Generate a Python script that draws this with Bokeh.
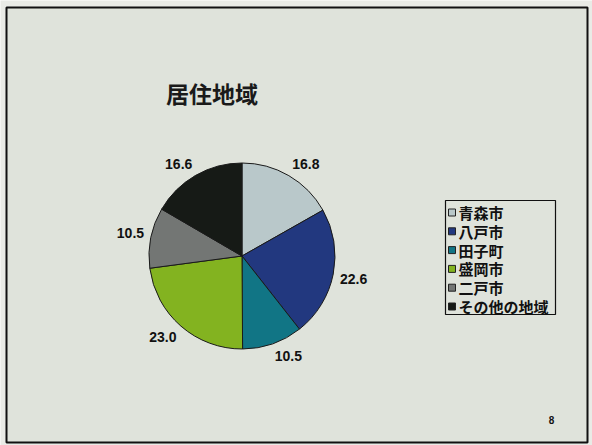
import numpy as np
from bokeh.plotting import figure
from bokeh.models import Range1d, ColumnDataSource
from bokeh.core.properties import value
from bokeh.embed import file_html
from bokeh.resources import INLINE

# ---- data ----
categories = ["青森市", "八戸市", "田子町", "盛岡市", "二戸市", "その他の地域"]
shares = [16.8, 22.6, 10.5, 23.0, 10.5, 16.6]
colors = ["#b9c8ca", "#22387f", "#117585", "#83b320", "#737674", "#161a16"]
title_text = "居住地域"
page_number = "8"

# ---- layout ----
W, H = 592, 445
BG = "#dfe3db"
OUT = "#e9ebe6"
p = figure(width=W, height=H, x_range=Range1d(0, W), y_range=Range1d(0, H),
           output_backend="svg", toolbar_location=None,
           x_axis_location=None, y_axis_location=None, min_border=0)
p.grid.visible = False
p.background_fill_color = OUT
p.border_fill_color = OUT
p.outline_line_color = None

def Y(y):  # page pixel row -> data y
    return H - y

# slide frame
p.quad(left=6, right=587, top=Y(7), bottom=Y(442), fill_color=BG,
       line_color="#111111", line_width=2)

cx, cy, r = 241.5, Y(255.5), 93
vals = np.array(shares, dtype=float)
cum = np.cumsum(vals) / vals.sum() * 2 * np.pi
beg = np.concatenate([[0.0], cum[:-1]])
mid = (beg + cum) / 2
s, c = np.sin(mid), np.cos(mid)
R, hw, hh = 100, 13.5, 5.5   # label anchor radius and half box size
src = ColumnDataSource(dict(
    cat=categories, val=vals, color=colors,
    sa=np.pi / 2 - cum, ea=np.pi / 2 - beg,
    lx=cx + R * s + hw * np.clip(3 * s, -1, 1),
    ly=cy + R * c + hh * np.clip(3 * c, -1, 1),
    lab=[f"{v:.1f}" for v in shares],
))

p.wedge(x=cx, y=cy, radius=r, start_angle="sa", end_angle="ea",
        fill_color="color", line_color="#1a1a1a", line_width=1, source=src)

p.text(x="lx", y="ly", text="lab", source=src, text_align="center",
       text_baseline="middle", text_font=value("Liberation Sans"),
       text_font_style="bold", text_font_size="14px", text_color="#111111")

p.text(x=[211.5], y=[Y(92.5)], text=[title_text], text_align="center",
       text_baseline="middle", text_font=value("Noto Sans CJK JP"),
       text_font_style="bold", text_font_size="23px", text_color="#1a1a1a")

p.text(x=[551], y=[Y(419)], text=[page_number], text_align="center",
       text_baseline="middle", text_font=value("Liberation Sans"),
       text_font_style="bold", text_font_size="10px", text_color="#111111")

# legend (drawn from the category list)
n = len(categories)
row_y = [Y(212 + 18.8 * i) for i in range(n)]
lsrc = ColumnDataSource(dict(cat=categories, color=colors, y=row_y,
                             mx=[451.5] * n, tx=[458] * n))
p.quad(left=445, right=555, top=Y(200), bottom=Y(314), fill_color=None,
       line_color="#111111", line_width=1.2)
p.rect(x="mx", y="y", width=7, height=7, fill_color="color",
       line_color="#222222", line_width=1, source=lsrc)
p.text(x="tx", y="y", text="cat", source=lsrc, text_align="left",
       text_baseline="middle", text_font=value("Noto Sans CJK JP"),
       text_font_style="bold", text_font_size="15px", text_color="#111111")

open("out.html", "w").write(file_html(p, INLINE))
